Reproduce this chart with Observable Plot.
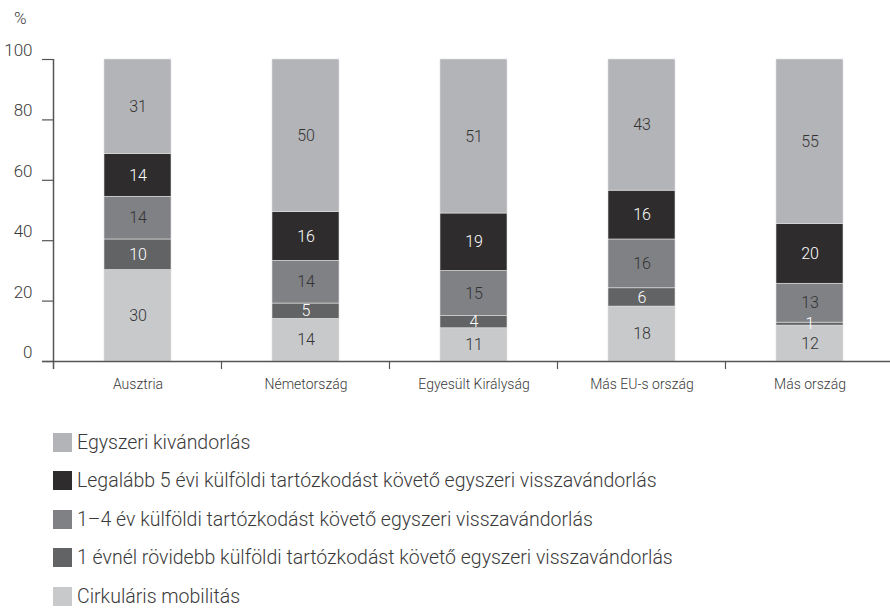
<!DOCTYPE html>
<html><head><meta charset="utf-8">
<script src="https://cdn.jsdelivr.net/npm/d3@7"></script>
<script src="https://cdn.jsdelivr.net/npm/@observablehq/plot@0.6"></script>
<style>
body{margin:0;background:#fff;font-family:Roboto,sans-serif;font-weight:300;color:#3a3a3a;}
#wrap{width:890px;height:608px;position:relative;overflow:hidden;}
#pct{position:absolute;left:14px;top:8px;font-size:17px;}
#chart{position:absolute;left:0;top:40px;}
#legend{position:absolute;left:53px;top:423px;}
.item{display:flex;align-items:center;height:38.5px;font-size:19.5px;white-space:nowrap;}
.sw{width:19px;height:19px;margin-right:5px;flex:none;}
</style></head>
<body>
<div id="wrap">
  <div id="pct">%</div>
  <div id="chart"></div>
  <div id="legend"></div>
</div>
<script>
const categories = ["Ausztria", "Németország", "Egyesült Királyság", "Más EU-s ország", "Más ország"];
const series = [
  "Egyszeri kivándorlás",
  "Legalább 5 évi külföldi tartózkodást követő egyszeri visszavándorlás",
  "1–4 év külföldi tartózkodást követő egyszeri visszavándorlás",
  "1 évnél rövidebb külföldi tartózkodást követő egyszeri visszavándorlás",
  "Cirkuláris mobilitás"
];
const colors = ["#b3b4b8", "#2e2c2d", "#808185", "#626365", "#c8c9cb"];
const egyszeri  = [31, 50, 51, 43, 55];
const legalabb5 = [14, 16, 19, 16, 20];
const ev1_4     = [14, 14, 15, 16, 13];
const ev1alatt  = [10, 5, 4, 6, 1];
const cirkularis = [30, 14, 11, 18, 12];
const yTicks = [0, 20, 40, 60, 80, 100];
const darkSeries = [series[1], series[3]];

const seriesValues = [egyszeri, legalabb5, ev1_4, ev1alatt, cirkularis];
// stack bottom to top: reverse legend order
const data = [];
for (let s = series.length - 1; s >= 0; s--) {
  categories.forEach((c, i) => data.push({cat: c, series: series[s], value: seriesValues[s][i]}));
}

const font = 'Roboto, sans-serif';
const stackOpts = {offset: "normalize", x: "cat", y: "value"};
const tickSize = 11;
const tv = yTicks.map(t => t / 100);

const chart = Plot.plot({
  width: 890,
  height: 361,
  marginTop: 19,
  marginBottom: 40,
  marginLeft: 53,
  marginRight: -5,
  style: {fontFamily: font, fontSize: "16px", fontWeight: 300, color: "#3a3a3a", background: "white"},
  x: {domain: categories, paddingInner: 0.6, paddingOuter: 0.3, label: null},
  y: {domain: [0, 1], label: null},
  color: {domain: series, range: colors},
  marks: [
    Plot.barY(data, Plot.stackY({...stackOpts, fill: "series", stroke: "#e2e2e2", strokeWidth: 0.6})),
    Plot.text(data, Plot.filter(d => darkSeries.includes(d.series),
      Plot.stackY({...stackOpts, text: d => String(d.value), fill: "white", fontSize: 16, fontWeight: 300}))),
    Plot.text(data, Plot.filter(d => !darkSeries.includes(d.series),
      Plot.stackY({...stackOpts, text: d => String(d.value), fill: "#333", fontSize: 16, fontWeight: 300}))),
    Plot.axisY({ticks: tv, tickFormat: () => "", tickSize, stroke: "#555", strokeWidth: 1.2}),
    Plot.axisY({ticks: tv, tickFormat: d => Math.round(d * 100), tickSize: 0, tickPadding: tickSize + 10, dy: -9, fontSize: 17, fontWeight: 300}),
    Plot.axisX({tickSize: 0, tickPadding: 18, fontSize: 14, fontWeight: 300}),
    Plot.ruleY([0], {insetLeft: -tickSize, stroke: "#555", strokeWidth: 1.5})
  ]
});
document.getElementById("chart").appendChild(chart);

// y axis line and category separators using the plot's scales
const xs = chart.scale("x"), ys = chart.scale("y");
const svg = d3.select(chart);
const y0 = ys.apply(0), y1 = ys.apply(1);
const gap = (xs.step - xs.bandwidth) / 2;
const g = svg.append("g").attr("stroke", "#555").attr("stroke-width", 1.5);
const xLeft = xs.apply(categories[0]) - gap;
g.append("line").attr("x1", xLeft).attr("x2", xLeft).attr("y1", y1).attr("y2", y0 + 8);
categories.slice(1).forEach(c => {
  const bx = xs.apply(c) - gap;
  g.append("line").attr("x1", bx).attr("x2", bx).attr("y1", y0).attr("y2", y0 + 8).attr("stroke-width", 1.2);
});

// legend
const legend = d3.select("#legend");
series.forEach((s, i) => {
  const it = legend.append("div").attr("class", "item");
  it.append("div").attr("class", "sw").style("background", colors[i]);
  it.append("span").text(s);
});
</script>
</body></html>
